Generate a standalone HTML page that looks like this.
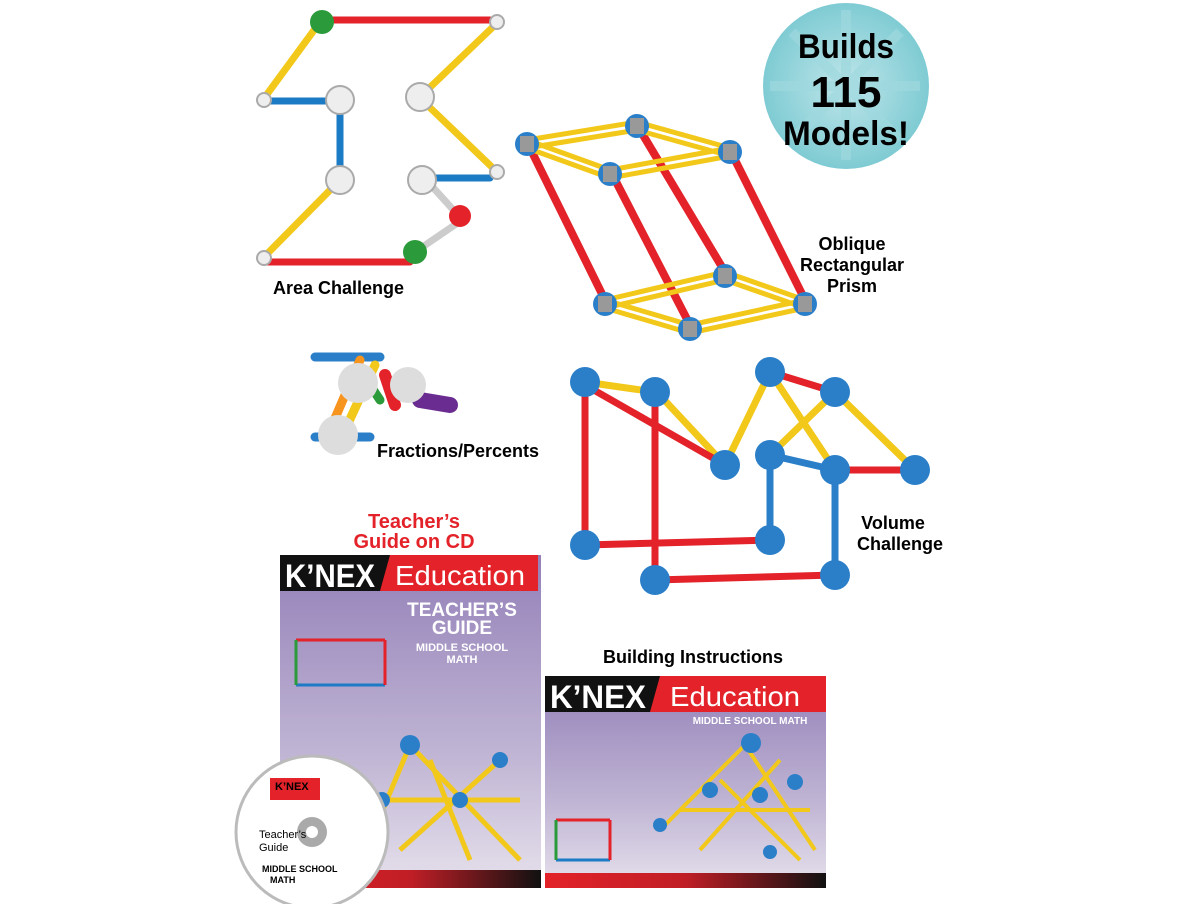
<!DOCTYPE html>
<html><head><meta charset="utf-8"><style>
body{margin:0;background:#fff;}
svg{display:block}
text{font-family:"Liberation Sans",sans-serif;font-weight:bold}
.n{font-weight:normal}
</style></head><body>
<svg width="1200" height="904" viewBox="0 0 1200 904" xmlns="http://www.w3.org/2000/svg">
<defs>
<linearGradient id="pg" x1="0" y1="0" x2="0" y2="1"><stop offset="0" stop-color="#9380b8"/><stop offset="0.6" stop-color="#c0b5d4"/><stop offset="1" stop-color="#e6e1ec"/></linearGradient>
<linearGradient id="ft" x1="0" y1="0" x2="1" y2="0"><stop offset="0" stop-color="#e32229"/><stop offset="0.5" stop-color="#c01e26"/><stop offset="1" stop-color="#111"/></linearGradient>
<radialGradient id="bg" cx="0.5" cy="0.5" r="0.5"><stop offset="0" stop-color="#bfe6ea"/><stop offset="1" stop-color="#7fcbd3"/></radialGradient>
</defs>
<circle cx="846" cy="86" r="83" fill="url(#bg)"/>
<g stroke="#9fd9df" stroke-width="10" opacity="0.7"><line x1="846" y1="10" x2="846" y2="160"/><line x1="770" y1="86" x2="920" y2="86"/><line x1="792" y1="32" x2="900" y2="140"/><line x1="900" y1="32" x2="792" y2="140"/></g>
<text x="846" y="58" font-size="34" text-anchor="middle" textLength="96" lengthAdjust="spacingAndGlyphs">Builds</text>
<text x="846" y="107" font-size="44" text-anchor="middle">115</text>
<text x="846" y="145" font-size="34" text-anchor="middle" textLength="126" lengthAdjust="spacingAndGlyphs">Models!</text>

<g stroke-linecap="round">
<g stroke-width="7">
<line x1="265" y1="97" x2="320" y2="22" stroke="#f2c81a"/>
<line x1="332" y1="20" x2="490" y2="20" stroke="#e32229"/>
<line x1="495" y1="25" x2="422" y2="95" stroke="#f2c81a"/>
<line x1="422" y1="100" x2="495" y2="170" stroke="#f2c81a"/>
<line x1="490" y1="178" x2="428" y2="178" stroke="#1b7bc4"/>
<line x1="428" y1="182" x2="458" y2="215" stroke="#ccc"/>
<line x1="462" y1="220" x2="418" y2="250" stroke="#ccc"/>
<line x1="410" y1="262" x2="268" y2="262" stroke="#e32229"/>
<line x1="265" y1="256" x2="338" y2="182" stroke="#f2c81a"/>
<line x1="340" y1="175" x2="340" y2="105" stroke="#1b7bc4"/>
<line x1="335" y1="101" x2="270" y2="101" stroke="#1b7bc4"/>
</g>
<g fill="#eee" stroke="#aaa" stroke-width="2">
<circle cx="340" cy="100" r="14"/><circle cx="420" cy="97" r="14"/><circle cx="340" cy="180" r="14"/><circle cx="422" cy="180" r="14"/>
<circle cx="264" cy="100" r="7"/><circle cx="264" cy="258" r="7"/><circle cx="497" cy="22" r="7"/><circle cx="497" cy="172" r="7"/>
</g>
<circle cx="322" cy="22" r="12" fill="#2a9a3a"/><circle cx="415" cy="252" r="12" fill="#2a9a3a"/><circle cx="460" cy="216" r="11" fill="#e32229"/>
</g>
<text x="273" y="294" font-size="18">Area Challenge</text>

<g stroke-linecap="round">
<g stroke="#e32229" stroke-width="8">
<line x1="527" y1="142" x2="605" y2="300"/><line x1="610" y1="170" x2="690" y2="325"/><line x1="730" y1="150" x2="805" y2="300"/><line x1="637" y1="125" x2="725" y2="272"/>
</g>
<g stroke="#f2c81a" stroke-width="5">
<polyline points="527,140 637,122 730,148 610,170 527,140" fill="none"/>
<polyline points="527,148 637,130 730,156 610,178 527,148" fill="none"/>
<polyline points="605,300 725,272 805,300 690,325 605,300" fill="none"/>
<polyline points="605,308 725,280 805,308 690,333 605,308" fill="none"/>
</g>
<g fill="#2b7fc9"><circle cx="527" cy="144" r="12"/><circle cx="637" cy="126" r="12"/><circle cx="730" cy="152" r="12"/><circle cx="610" cy="174" r="12"/>
<circle cx="605" cy="304" r="12"/><circle cx="725" cy="276" r="12"/><circle cx="805" cy="304" r="12"/><circle cx="690" cy="329" r="12"/></g>
<g fill="#999"><rect x="520" y="136" width="14" height="16"/><rect x="630" y="118" width="14" height="16"/><rect x="723" y="144" width="14" height="16"/><rect x="603" y="166" width="14" height="16"/>
<rect x="598" y="296" width="14" height="16"/><rect x="718" y="268" width="14" height="16"/><rect x="798" y="296" width="14" height="16"/><rect x="683" y="321" width="14" height="16"/></g>
</g>
<text x="852" y="250" font-size="18" text-anchor="middle">Oblique</text>
<text x="852" y="271" font-size="18" text-anchor="middle">Rectangular</text>
<text x="852" y="292" font-size="18" text-anchor="middle">Prism</text>

<g stroke-linecap="round" stroke-width="9">
<line x1="315" y1="357" x2="380" y2="357" stroke="#2b7fc9"/>
<line x1="315" y1="437" x2="370" y2="437" stroke="#2b7fc9"/>
<line x1="330" y1="430" x2="360" y2="360" stroke="#f7941d"/>
<line x1="345" y1="430" x2="375" y2="365" stroke="#f2c81a"/>
<line x1="360" y1="370" x2="380" y2="400" stroke="#2a9a3a"/>
<line x1="420" y1="400" x2="450" y2="405" stroke="#6a2c91" stroke-width="16"/>
<line x1="385" y1="375" x2="395" y2="405" stroke="#e32229" stroke-width="12"/>
</g>
<circle cx="358" cy="383" r="20" fill="#ddd"/><circle cx="408" cy="385" r="18" fill="#ddd"/><circle cx="338" cy="435" r="20" fill="#ddd"/>
<text x="377" y="457" font-size="18">Fractions/Percents</text>

<g stroke-linecap="round" stroke-width="7">
<g stroke="#f2c81a">
<line x1="655" y1="390" x2="725" y2="465"/><line x1="725" y1="465" x2="770" y2="372"/><line x1="835" y1="392" x2="915" y2="470"/>
<line x1="770" y1="455" x2="835" y2="392"/><line x1="585" y1="382" x2="655" y2="392"/><line x1="770" y1="372" x2="835" y2="470"/>
</g>
<g stroke="#e32229">
<line x1="585" y1="385" x2="585" y2="545"/><line x1="655" y1="395" x2="655" y2="580"/>
<line x1="585" y1="545" x2="770" y2="540"/><line x1="655" y1="580" x2="835" y2="575"/>
<line x1="770" y1="372" x2="835" y2="392"/><line x1="835" y1="470" x2="915" y2="470"/><line x1="585" y1="385" x2="725" y2="465"/>
</g>
<g stroke="#2b7fc9">
<line x1="770" y1="455" x2="770" y2="540"/><line x1="835" y1="470" x2="835" y2="575"/><line x1="770" y1="455" x2="835" y2="470"/>
</g>
</g>
<g fill="#2b7fc9"><circle cx="585" cy="382" r="15"/><circle cx="655" cy="392" r="15"/><circle cx="770" cy="372" r="15"/><circle cx="835" cy="392" r="15"/>
<circle cx="725" cy="465" r="15"/><circle cx="770" cy="455" r="15"/><circle cx="835" cy="470" r="15"/><circle cx="915" cy="470" r="15"/>
<circle cx="585" cy="545" r="15"/><circle cx="655" cy="580" r="15"/><circle cx="770" cy="540" r="15"/><circle cx="835" cy="575" r="15"/></g>
<text x="893" y="529" font-size="18" text-anchor="middle">Volume</text>
<text x="900" y="550" font-size="18" text-anchor="middle">Challenge</text>

<text x="414" y="528" font-size="20" fill="#e32229" text-anchor="middle">Teacher’s</text>
<text x="414" y="548" font-size="20" fill="#e32229" text-anchor="middle">Guide on CD</text>
<rect x="280" y="555" width="261" height="333" fill="url(#pg)"/>
<rect x="280" y="555" width="258" height="36" fill="#e32229"/>
<polygon points="280,555 390,555 380,591 280,591" fill="#111"/>
<text x="285" y="587" font-size="32" fill="#fff" textLength="90" lengthAdjust="spacingAndGlyphs">K’NEX</text>
<text x="460" y="585" font-size="28" fill="#fff" class="n" text-anchor="middle" textLength="130" lengthAdjust="spacingAndGlyphs">Education</text>
<text x="462" y="616" font-size="19" fill="#fff" text-anchor="middle">TEACHER’S</text>
<text x="462" y="634" font-size="19" fill="#fff" text-anchor="middle">GUIDE</text>
<text x="462" y="651" font-size="11" fill="#fff" text-anchor="middle">MIDDLE SCHOOL</text>
<text x="462" y="663" font-size="11" fill="#fff" text-anchor="middle">MATH</text>
<g stroke-width="3"><line x1="296" y1="640" x2="385" y2="640" stroke="#e32229"/><line x1="296" y1="685" x2="385" y2="685" stroke="#1b7bc4"/><line x1="385" y1="640" x2="385" y2="685" stroke="#e32229"/><line x1="296" y1="640" x2="296" y2="685" stroke="#2a9a3a"/></g>
<g stroke="#f2c81a" stroke-width="5"><line x1="370" y1="840" x2="410" y2="745"/><line x1="410" y1="745" x2="520" y2="860"/><line x1="380" y1="800" x2="520" y2="800"/><line x1="430" y1="760" x2="470" y2="860"/><line x1="400" y1="850" x2="500" y2="760"/></g>
<g fill="#2b7fc9"><circle cx="410" cy="745" r="10"/><circle cx="382" cy="800" r="8"/><circle cx="500" cy="760" r="8"/><circle cx="460" cy="800" r="8"/></g>
<rect x="280" y="870" width="261" height="18" fill="url(#ft)"/>
<circle cx="312" cy="832" r="76" fill="#fff" stroke="#bbb" stroke-width="3"/>
<circle cx="312" cy="832" r="15" fill="#aaa"/><circle cx="312" cy="832" r="6" fill="#fff"/>
<rect x="270" y="778" width="50" height="22" fill="#e32229"/>
<text x="275" y="790" font-size="11">K’NEX</text>
<text x="259" y="838" font-size="11" class="n">Teacher’s</text>
<text x="259" y="851" font-size="11" class="n">Guide</text>
<text x="262" y="872" font-size="9">MIDDLE SCHOOL</text>
<text x="270" y="883" font-size="9">MATH</text>

<text x="693" y="663" font-size="18" text-anchor="middle">Building Instructions</text>
<rect x="545" y="676" width="281" height="212" fill="url(#pg)"/>
<rect x="545" y="676" width="281" height="36" fill="#e32229"/>
<polygon points="545,676 660,676 650,712 545,712" fill="#111"/>
<text x="550" y="708" font-size="32" fill="#fff" textLength="96" lengthAdjust="spacingAndGlyphs">K’NEX</text>
<text x="735" y="706" font-size="28" fill="#fff" class="n" text-anchor="middle" textLength="130" lengthAdjust="spacingAndGlyphs">Education</text>
<text x="750" y="724" font-size="10" fill="#fff" text-anchor="middle">MIDDLE SCHOOL MATH</text>
<g stroke="#f2c81a" stroke-width="4"><line x1="660" y1="830" x2="745" y2="745"/><line x1="745" y1="745" x2="815" y2="850"/><line x1="680" y1="810" x2="810" y2="810"/><line x1="700" y1="850" x2="780" y2="760"/><line x1="720" y1="780" x2="800" y2="860"/></g>
<g fill="#2b7fc9"><circle cx="751" cy="743" r="10"/><circle cx="710" cy="790" r="8"/><circle cx="795" cy="782" r="8"/><circle cx="760" cy="795" r="8"/><circle cx="660" cy="825" r="7"/><circle cx="770" cy="852" r="7"/></g>
<g stroke-width="3"><line x1="556" y1="820" x2="610" y2="820" stroke="#e32229"/><line x1="556" y1="860" x2="610" y2="860" stroke="#1b7bc4"/><line x1="556" y1="820" x2="556" y2="860" stroke="#2a9a3a"/><line x1="610" y1="820" x2="610" y2="860" stroke="#e32229"/></g>
<rect x="545" y="873" width="281" height="15" fill="url(#ft)"/>
</svg>
</body></html>
